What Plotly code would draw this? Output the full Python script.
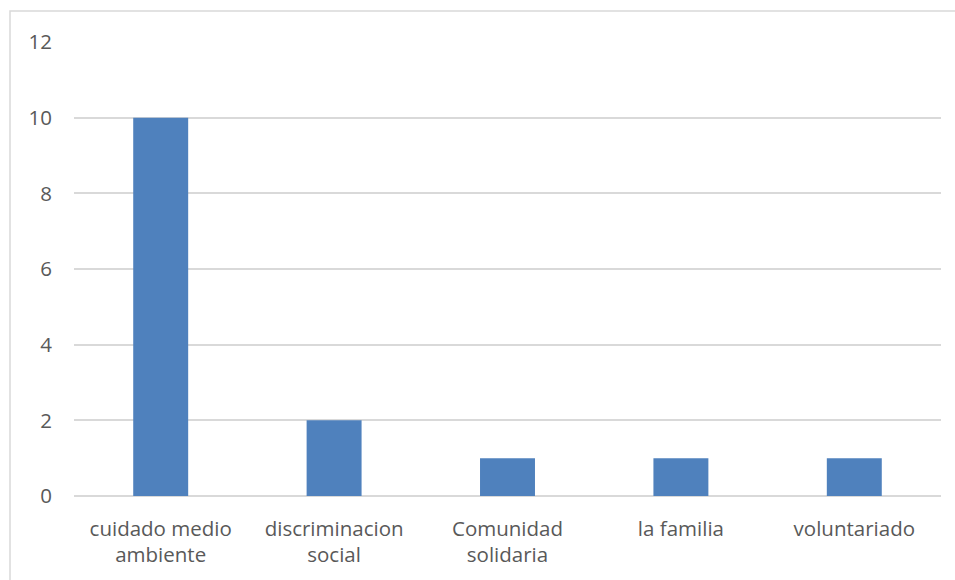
import plotly.graph_objects as go

categories = ["cuidado medio<br>ambiente", "discriminacion<br>social", "Comunidad<br>solidaria", "la familia", "voluntariado"]
values = [10, 2, 1, 1, 1]
y_ticks = [0, 2, 4, 6, 8, 10, 12]

W, H = 955, 580
L, R, T, B = 74, 14, 42, 84
pw, ph = W - L - R, H - T - B
FS = 20.5

fig = go.Figure(go.Bar(x=categories, y=values, marker=dict(color="#4f81bd", line=dict(width=0)), width=0.317))

fig.update_layout(
    width=W, height=H,
    margin=dict(l=L, r=R, t=T, b=B, pad=0),
    paper_bgcolor="white", plot_bgcolor="white",
    font=dict(family="Open Sans", size=FS, color="#595959"),
    showlegend=False,
)
fig.update_xaxes(showgrid=False, showline=False, zeroline=False, ticks="", tickfont=dict(size=FS, color="#595959"),
                 ticklabelstandoff=18)
fig.update_yaxes(range=[0, 12], tickvals=y_ticks, showgrid=True, gridcolor="#d9d9d9", gridwidth=1.5,
                 zeroline=True, zerolinecolor="#d9d9d9", zerolinewidth=1.5, showline=False, ticks="",
                 tickfont=dict(size=FS, color="#595959"), ticklabelstandoff=21)

# outer chart border
fig.add_shape(type="rect", xref="paper", yref="paper",
              x0=(10 - L) / pw, x1=(W + 20 - L) / pw,
              y0=-(H + 20 - (H - B)) / ph, y1=(H - B - 11) / ph,
              line=dict(color="#d9d9d9", width=1.5), fillcolor="rgba(0,0,0,0)", layer="below")

fig.write_html("out.html", config={"displayModeBar": False},
               post_script="document.body.style.margin='0';document.body.style.overflow='hidden';")
